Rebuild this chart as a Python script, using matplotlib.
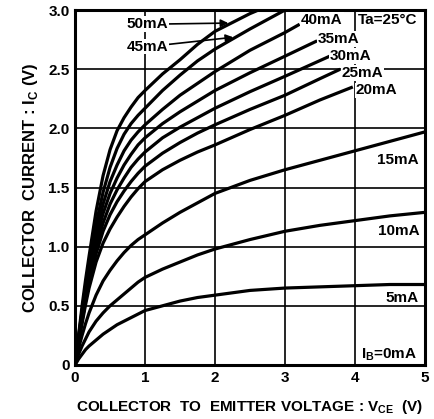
import matplotlib
matplotlib.use("Agg")
import matplotlib.pyplot as plt

plt.rcParams['font.family'] = ['Liberation Sans', 'DejaVu Sans']
plt.rcParams['mathtext.fontset'] = 'custom'
plt.rcParams['mathtext.rm'] = 'Liberation Sans'
plt.rcParams['mathtext.bf'] = 'Liberation Sans:bold'

# Vce grid used for the curves (V)
vce = [0, 0.05, 0.1, 0.15, 0.2, 0.3, 0.4, 0.5, 0.6, 0.7, 0.8, 0.9, 1.0,
       1.25, 1.5, 1.75, 2.0, 2.5, 3.0, 3.5, 4.0, 4.5, 5.0]

# collector current, one list per base current
ic_5 = [0, 0.05, 0.09, 0.13, 0.16, 0.21, 0.26, 0.30, 0.34, 0.37, 0.40, 0.43, 0.46,
        0.50, 0.54, 0.57, 0.59, 0.63, 0.65, 0.66, 0.67, 0.68, 0.68]
ic_10 = [0, 0.09, 0.16, 0.22, 0.28, 0.37, 0.44, 0.50, 0.55, 0.60, 0.65, 0.70, 0.74,
         0.81, 0.87, 0.93, 0.98, 1.06, 1.13, 1.18, 1.22, 1.26, 1.29]
ic_15 = [0, 0.14, 0.25, 0.35, 0.44, 0.59, 0.71, 0.80, 0.88, 0.95, 1.01, 1.06, 1.10,
         1.20, 1.29, 1.37, 1.45, 1.56, 1.65, 1.73, 1.81, 1.89, 1.97]
ic_20 = [0, 0.19, 0.35, 0.51, 0.65, 0.87, 1.03, 1.15, 1.25, 1.34, 1.42, 1.49, 1.55,
         1.65, 1.73, 1.80, 1.86, 1.99, 2.11, 2.24, 2.35]
ic_25 = [0, 0.20, 0.37, 0.54, 0.70, 0.94, 1.13, 1.27, 1.38, 1.47, 1.55, 1.62, 1.68,
         1.79, 1.88, 1.96, 2.03, 2.16, 2.28, 2.42, 2.50]
ic_30 = [0, 0.21, 0.40, 0.58, 0.74, 1.00, 1.20, 1.36, 1.48, 1.58, 1.67, 1.74, 1.80,
         1.92, 2.01, 2.09, 2.17, 2.31, 2.44, 2.61]
ic_35 = [0, 0.22, 0.42, 0.61, 0.78, 1.06, 1.28, 1.45, 1.58, 1.69, 1.78, 1.86, 1.92,
         2.04, 2.14, 2.23, 2.32, 2.47, 2.61, 2.74]
ic_40 = [0, 0.23, 0.44, 0.64, 0.82, 1.12, 1.36, 1.55, 1.69, 1.81, 1.90, 1.97, 2.03,
         2.16, 2.28, 2.38, 2.48, 2.66, 2.81, 2.88]
ic_45 = [0, 0.24, 0.46, 0.67, 0.86, 1.19, 1.46, 1.67, 1.83, 1.95, 2.04, 2.11, 2.17,
         2.32, 2.45, 2.57, 2.67, 2.84, 3.00]
ic_50 = [0, 0.25, 0.50, 0.72, 0.92, 1.30, 1.60, 1.82, 1.98, 2.09, 2.18, 2.26, 2.32,
         2.46, 2.58, 2.71, 2.82, 2.97, 3.00]

# last Vce of curves that stop at their label / the top edge
end_v = {20: 3.97, 25: 3.79, 30: 3.64, 35: 3.46, 40: 3.21, 50: 2.62}

curves = {5: ic_5, 10: ic_10, 15: ic_15, 20: ic_20, 25: ic_25,
          30: ic_30, 35: ic_35, 40: ic_40, 45: ic_45, 50: ic_50}

fig = plt.figure(figsize=(4.34, 4.19), dpi=100)
ax = fig.add_axes([0.173, 0.129, 0.806, 0.847])

for ib, ic in curves.items():
    xs = vce[:len(ic)]
    if ib in end_v:
        xs = vce[:len(ic) - 1] + [end_v[ib]]
    ax.plot(xs, ic, color='black', lw=2.3, solid_capstyle='butt',
            solid_joinstyle='round', zorder=3)

ax.set_xlim(0, 5)
ax.set_ylim(0, 3.0)
ax.set_xticks([0, 1, 2, 3, 4, 5])
ax.set_yticks([0, 0.5, 1.0, 1.5, 2.0, 2.5, 3.0])
ax.set_xticklabels(['0', '1', '2', '3', '4', '5'], fontweight='bold', fontsize=11)
ax.set_yticklabels(['0', '0.5', '1.0', '1.5', '2.0', '2.5', '3.0'], fontweight='bold', fontsize=11)
ax.tick_params(length=0, pad=4)
ax.grid(True, color='black', lw=1.2)
ax.set_axisbelow(True)
for s in ax.spines.values():
    s.set_linewidth(2.2)

ax.set_xlabel(r'COLLECTOR  TO  EMITTER VOLTAGE : V$_{\mathbf{CE}}$  (V)', fontsize=11,
              fontweight='bold', labelpad=10)
ax.set_ylabel(r'COLLECTOR  CURRENT : I$_{\mathbf{C}}$ (V)', fontsize=12,
              fontweight='bold', labelpad=6)

box = dict(facecolor='white', edgecolor='none', pad=0.5)
lab = dict(fontsize=11, fontweight='bold', ha='center', va='center', zorder=4)

ax.annotate('50mA', xy=(2.19, 2.89), xytext=(1.03, 2.88),
            arrowprops=dict(arrowstyle='-|>', color='black', lw=1.2, shrinkA=0, shrinkB=0),
            bbox=box, **lab)
ax.annotate('45mA', xy=(2.26, 2.77), xytext=(1.03, 2.69),
            arrowprops=dict(arrowstyle='-|>', color='black', lw=1.2, shrinkA=0, shrinkB=0),
            bbox=box, **lab)

labels = [('40mA', 3.53, 2.92), ('Ta=25°C', 4.47, 2.92), ('35mA', 3.76, 2.755),
          ('30mA', 3.94, 2.61), ('25mA', 4.11, 2.47), ('20mA', 4.31, 2.32),
          ('15mA', 4.61, 1.73), ('10mA', 4.63, 1.13), ('5mA', 4.67, 0.57),
          (r'I$_{\mathbf{B}}$=0mA', 4.49, 0.09)]
for txt, x, y in labels:
    ax.text(x, y, txt, bbox=box, **lab)

fig.savefig('out.png', dpi=100)
